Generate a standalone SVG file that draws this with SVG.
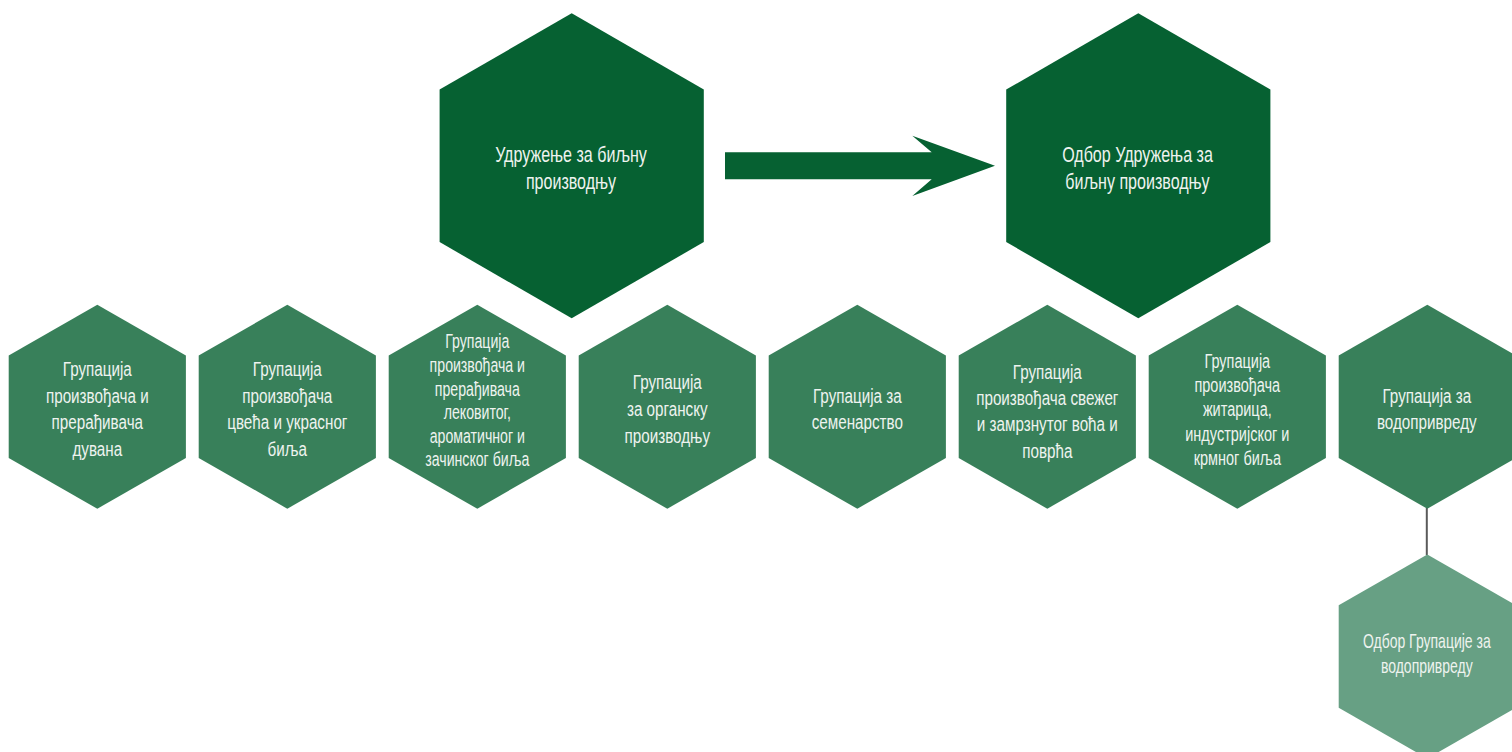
<svg xmlns="http://www.w3.org/2000/svg" width="1512" height="752" viewBox="0 0 1512 752">
<style>
.top{fill:#066132}
.grp{fill:#38805A}
.odb{fill:#67A084}
text{font-family:"Liberation Sans",Arial,sans-serif;fill:#EEF3EF;text-anchor:middle}
.t22{font-size:22px}
.t21{font-size:21px}
.t20{font-size:20px}
.t195{font-size:19.5px}
</style>
<defs>
<polygon id="hexL" points="0,-152.5 132.1,-76.25 132.1,76.25 0,152.5 -132.1,76.25 -132.1,-76.25"/>
<polygon id="hexS" points="0,-102 88.6,-51.2 88.6,51.2 0,102 -88.6,51.2 -88.6,-51.2"/>
</defs>
<rect width="1512" height="752" fill="#FFFFFF"/>

<g id="connectors">
<polygon class="top" points="725,152.3 931.7,152.3 912.3,135.7 995,165.7 912.3,196 931.7,179.3 725,179.3"/>
<line x1="1426.8" y1="508" x2="1426.8" y2="555" stroke="#5A5A5A" stroke-width="2"/>
</g>

<g id="n-udruzenje">
<use href="#hexL" class="top" x="571.7" y="165.8"/>
<g transform="translate(571 0) scale(0.73 1)"><text class="t22"><tspan x="0" y="162">Удружење за биљну</tspan><tspan x="0" y="189">производњу</tspan></text></g>
</g>

<g id="n-odbor-udruzenja">
<use href="#hexL" class="top" x="1138.3" y="165.8"/>
<g transform="translate(1137.5 0) scale(0.73 1)"><text class="t22"><tspan x="0" y="162">Одбор Удружења за</tspan><tspan x="0" y="189">биљну производњу</tspan></text></g>
</g>

<g id="n-duvan">
<use href="#hexS" class="grp" x="97.3" y="406.7"/>
<g transform="translate(97.3 0) scale(0.725 1)"><text class="t21"><tspan x="0" y="376">Групација</tspan><tspan x="0" y="403">произвођача и</tspan><tspan x="0" y="429">прерађивача</tspan><tspan x="0" y="456">дувана</tspan></text></g>
</g>

<g id="n-cvece">
<use href="#hexS" class="grp" x="287.3" y="406.7"/>
<g transform="translate(287.3 0) scale(0.725 1)"><text class="t21"><tspan x="0" y="376">Групација</tspan><tspan x="0" y="403">произвођача</tspan><tspan x="0" y="429">цвећа и украсног</tspan><tspan x="0" y="456">биља</tspan></text></g>
</g>

<g id="n-lekovito">
<use href="#hexS" class="grp" x="477.3" y="406.7"/>
<g transform="translate(477.3 0) scale(0.725 1)"><text class="t195"><tspan x="0" y="348">Групација</tspan><tspan x="0" y="372">произвођача и</tspan><tspan x="0" y="396">прерађивача</tspan><tspan x="0" y="419">лековитог,</tspan><tspan x="0" y="443">ароматичног и</tspan><tspan x="0" y="466">зачинског биља</tspan></text></g>
</g>

<g id="n-organska">
<use href="#hexS" class="grp" x="667.3" y="406.7"/>
<g transform="translate(667.3 0) scale(0.725 1)"><text class="t21"><tspan x="0" y="389">Групација</tspan><tspan x="0" y="416">за органску</tspan><tspan x="0" y="443">производњу</tspan></text></g>
</g>

<g id="n-semenarstvo">
<use href="#hexS" class="grp" x="857.3" y="406.7"/>
<g transform="translate(857.3 0) scale(0.725 1)"><text class="t21"><tspan x="0" y="403">Групација за</tspan><tspan x="0" y="429">семенарство</tspan></text></g>
</g>

<g id="n-voce">
<use href="#hexS" class="grp" x="1047.3" y="406.7"/>
<g transform="translate(1047.3 0) scale(0.725 1)"><text class="t21"><tspan x="0" y="379">Групација</tspan><tspan x="0" y="405">произвођача свежег</tspan><tspan x="0" y="431">и замрзнутог воћа и</tspan><tspan x="0" y="458">поврћа</tspan></text></g>
</g>

<g id="n-zitarice">
<use href="#hexS" class="grp" x="1237.3" y="406.7"/>
<g transform="translate(1237.3 0) scale(0.725 1)"><text class="t20"><tspan x="0" y="368">Групација</tspan><tspan x="0" y="392">произвођача</tspan><tspan x="0" y="416">житарица,</tspan><tspan x="0" y="441">индустријског и</tspan><tspan x="0" y="465">крмног биља</tspan></text></g>
</g>

<g id="n-vodoprivreda">
<use href="#hexS" class="grp" x="1427.3" y="406.7"/>
<g transform="translate(1426.8 0) scale(0.725 1)"><text class="t21"><tspan x="0" y="403">Групација за</tspan><tspan x="0" y="429">водопривреду</tspan></text></g>
</g>

<g id="n-odbor-vodoprivreda">
<use href="#hexS" class="odb" x="1427.3" y="656.5"/>
<g transform="translate(1426.8 0) scale(0.7 1)"><text class="t20"><tspan x="0" y="648">Одбор Групације за</tspan><tspan x="0" y="673">водопривреду</tspan></text></g>
</g>
</svg>
